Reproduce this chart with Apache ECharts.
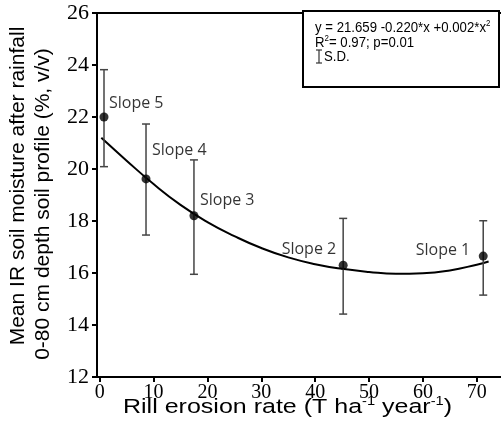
<!DOCTYPE html>
<html>
<head>
<meta charset="utf-8">
<script src="https://cdn.jsdelivr.net/npm/echarts@6/dist/echarts.min.js"></script>
<style>html,body{margin:0;padding:0;background:#fff;}#c{width:501px;height:430px;}</style>
</head>
<body>
<div id="c"></div>
<script>
// ---- data ----
const slopeNames = ['Slope 5', 'Slope 4', 'Slope 3', 'Slope 2', 'Slope 1'];
const erosionRate = [0.8, 8.6, 17.5, 45.2, 71.2];
const moisture = [22.0, 19.62, 18.2, 16.3, 16.65];
const sdLow = [20.09, 17.46, 15.95, 14.42, 15.15];
const sdHigh = [23.82, 21.73, 20.35, 18.1, 18.01];
const fitX = [0.3, 5, 10, 15, 20, 25, 30, 35, 40, 45, 50, 55, 60, 65, 70, 72.2];
const fitY = [21.2, 20.32, 19.42, 18.62, 17.96, 17.42, 16.96, 16.6, 16.34, 16.16, 16.04, 15.97, 15.99, 16.1, 16.32, 16.44];
const xTickValues = [0, 10, 20, 30, 40, 50, 60, 70];
const yRange = [12, 26];
const eqLines = ['y = 21.659 -0.220*x +0.002*x', 'R', '= 0.97; p=0.01', 'S.D.'];
const xTitle = ['Rill erosion rate (T ha', '-1', ' year', '-1', ')'];
const yTitle = ['Mean IR soil moisture after rainfall', '0-80 cm depth soil profile (%, v/v)'];

// ---- chart ----
const chart = echarts.init(document.getElementById('c'), null, {renderer: 'canvas'});
const labelOffsets = [[5, -14, 'left'], [6, -28, 'left'], [6, -15, 'left'], [-7, -16, 'right'], [-13, -6, 'right']];

const pointData = erosionRate.map((x, i) => ({
  value: [x, moisture[i]],
  name: slopeNames[i],
  label: {
    show: true, position: 'inside', formatter: '{b}',
    align: labelOffsets[i][2], verticalAlign: 'middle',
    offset: [labelOffsets[i][0], labelOffsets[i][1]],
    fontFamily: 'Open Sans', fontSize: 16, color: '#000'
  }
}));
const errData = erosionRate.map((x, i) => [x, sdLow[i], sdHigh[i]]);
const fitData = fitX.map((x, i) => [x, fitY[i]]);

const eqRich = {
  a: {fontFamily: 'Liberation Sans', fontSize: 15, fill: '#000', lineHeight: 16, verticalAlign: 'bottom'},
  s: {fontFamily: 'Liberation Sans', fontSize: 9, fill: '#000', lineHeight: 9, verticalAlign: 'top'}
};

const option = {
  animation: false,
  backgroundColor: '#fff',
  grid: {left: 97, right: 0, top: 13, bottom: 53, containLabel: false},
  xAxis: [{
    type: 'value', min: -0.5, max: 74.5, position: 'bottom',
    axisLine: {show: true, onZero: false, lineStyle: {color: '#000', width: 2}},
    axisTick: {show: true, inside: false, length: 5, customValues: xTickValues, lineStyle: {color: '#000', width: 2}},
    axisLabel: {show: true, margin: 6, customValues: xTickValues, fontFamily: 'Liberation Sans Narrow', fontSize: 20, color: '#000'},
    splitLine: {show: false}
  }, {
    type: 'value', min: -0.5, max: 74.5, position: 'top',
    axisLine: {show: true, onZero: false, lineStyle: {color: '#000', width: 2}},
    axisTick: {show: false}, axisLabel: {show: false}, splitLine: {show: false}
  }],
  yAxis: {
    type: 'value', min: yRange[0], max: yRange[1], interval: 2,
    axisLine: {show: true, onZero: false, lineStyle: {color: '#000', width: 2}},
    axisTick: {show: true, inside: false, length: 5, lineStyle: {color: '#000', width: 2}},
    axisLabel: {show: true, margin: 8, fontFamily: 'Liberation Sans Narrow', fontSize: 22, color: '#000'},
    splitLine: {show: false}
  },
  series: [{
    type: 'line', data: fitData, smooth: 0.5, showSymbol: false, silent: true,
    lineStyle: {color: '#000', width: 2}, z: 2
  }, {
    type: 'custom', data: errData, z: 3,
    renderItem: function (params, api) {
      const x = api.value(0);
      const lo = api.coord([x, api.value(1)]);
      const hi = api.coord([x, api.value(2)]);
      const w = 4;
      const st = {stroke: '#444', lineWidth: 1.5};
      return {
        type: 'group',
        children: [
          {type: 'line', shape: {x1: lo[0], y1: lo[1], x2: hi[0], y2: hi[1]}, style: st},
          {type: 'line', shape: {x1: lo[0] - w, y1: lo[1], x2: lo[0] + w, y2: lo[1]}, style: st},
          {type: 'line', shape: {x1: hi[0] - w, y1: hi[1], x2: hi[0] + w, y2: hi[1]}, style: st}
        ]
      };
    }
  }, {
    type: 'scatter', data: pointData, symbol: 'circle', symbolSize: 9, z: 4,
    itemStyle: {color: '#000'}
  }],
  graphic: [
    // y axis title (two lines)
    {type: 'text', x: 18, y: 186, rotation: Math.PI / 2,
     style: {text: yTitle[0], font: '21px "Liberation Sans"', fill: '#000', align: 'center', verticalAlign: 'middle'}},
    {type: 'text', x: 43, y: 204, rotation: Math.PI / 2,
     style: {text: yTitle[1], font: '21px "Liberation Sans"', fill: '#000', align: 'center', verticalAlign: 'middle'}},
    // x axis title
    {type: 'text', x: 123, y: 407, scaleX: 1.22,
     style: {
       text: '{a|' + xTitle[0] + '}{s|' + xTitle[1] + '}{a|' + xTitle[2] + '}{s|' + xTitle[3] + '}{a|' + xTitle[4] + '}',
       align: 'left', verticalAlign: 'middle',
       rich: {
         a: {fontFamily: 'Liberation Sans', fontSize: 20.5, fill: '#000', lineHeight: 22, verticalAlign: 'bottom'},
         s: {fontFamily: 'Liberation Sans', fontSize: 12, fill: '#000', lineHeight: 12, verticalAlign: 'top'}
       }
     }},
    // equation box
    {type: 'rect', shape: {x: 303, y: 11, width: 196, height: 76}, style: {fill: '#fff', stroke: '#000', lineWidth: 2}, z: 10},
    {type: 'text', x: 315, y: 27, z: 11, scaleX: 0.88,
     style: {text: '{a|' + eqLines[0] + '}{s|2}', align: 'left', verticalAlign: 'middle', rich: eqRich}},
    {type: 'text', x: 315, y: 42, z: 11, scaleX: 0.88,
     style: {text: '{a|' + eqLines[1] + '}{s|2}{a|' + eqLines[2] + '}', align: 'left', verticalAlign: 'middle', rich: eqRich}},
    {type: 'line', shape: {x1: 319, y1: 50, x2: 319, y2: 63}, style: {stroke: '#333', lineWidth: 1.2}, z: 11},
    {type: 'line', shape: {x1: 316, y1: 50, x2: 322, y2: 50}, style: {stroke: '#333', lineWidth: 1.2}, z: 11},
    {type: 'line', shape: {x1: 316, y1: 63, x2: 322, y2: 63}, style: {stroke: '#333', lineWidth: 1.2}, z: 11},
    {type: 'text', x: 324, y: 57, z: 11, scaleX: 0.88,
     style: {text: eqLines[3], font: '15px "Liberation Sans"', fill: '#000', align: 'left', verticalAlign: 'middle'}}
  ]
};
chart.setOption(option);
</script>
</body>
</html>
